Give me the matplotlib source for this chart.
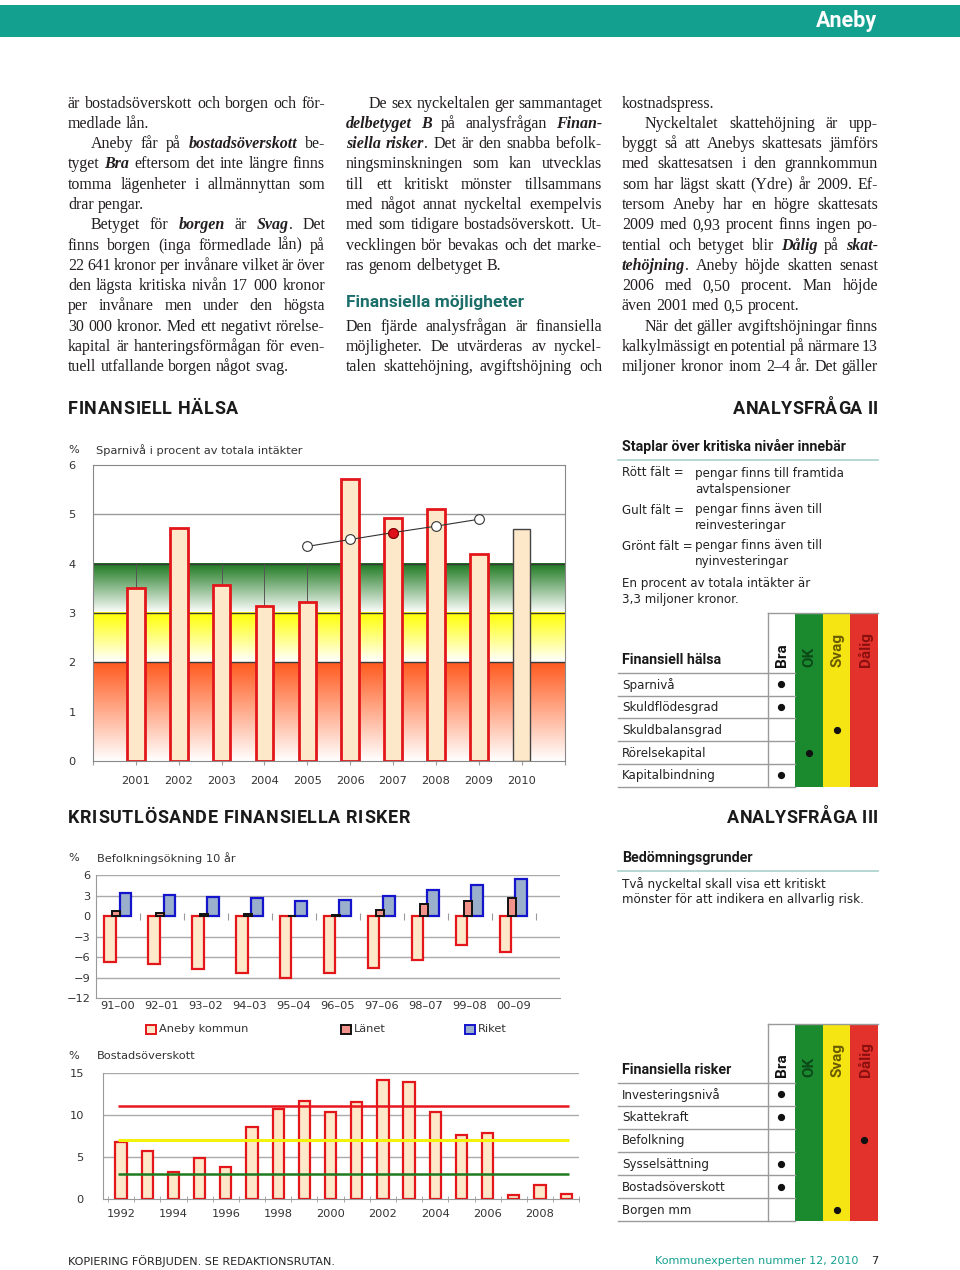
import matplotlib
matplotlib.use('Agg')
import matplotlib.pyplot as plt
from matplotlib.patches import Rectangle
import numpy as np

W, H = 960, 1270

# --- data: sparnivå ---
years = ['2001', '2002', '2003', '2004', '2005', '2006', '2007', '2008', '2009', '2010']
sparniva = [3.51, 4.73, 3.56, 3.15, 3.22, 5.71, 4.93, 5.11, 4.20, 4.70]
trend_years = ['2005', '2006', '2007', '2008', '2009']
trend = [4.35, 4.49, 4.63, 4.76, 4.90]
trend_mark = '2007'

# --- data: befolkningsökning 10 år ---
perioder = ['91–00', '92–01', '93–02', '94–03', '95–04', '96–05', '97–06', '98–07', '99–08', '00–09']
aneby = [-6.75, -6.94, -7.72, -8.35, -9.08, -8.30, -7.60, -6.45, -4.27, -5.30]
lanet = [0.80, 0.40, 0.26, 0.26, 0.0, 0.16, 0.84, 1.72, 2.20, 2.65]
riket = [3.40, 3.12, 2.84, 2.60, 2.20, 2.35, 2.98, 3.75, 4.53, 5.36]

# --- data: bostadsöverskott ---
bo_ar = list(range(1992, 2010))
bo_varde = [6.79, 5.68, 3.28, 4.86, 3.87, 8.60, 10.70, 11.69, 10.38, 11.57,
            14.13, 13.94, 10.38, 7.62, 7.82, 0.47, 1.70, 0.67]
niva_rod, niva_gul, niva_gron = 11, 7, 3

# --- data: betygstabeller ---
betyg = ['Bra', 'OK', 'Svag', 'Dålig']
halsa_rader = ['Sparnivå', 'Skuldflödesgrad', 'Skuldbalansgrad', 'Rörelsekapital', 'Kapitalbindning']
halsa_betyg = ['Bra', 'Bra', 'Svag', 'OK', 'Bra']
risk_rader = ['Investeringsnivå', 'Skattekraft', 'Befolkning', 'Sysselsättning', 'Bostadsöverskott', 'Borgen mm']
risk_betyg = ['Bra', 'Bra', 'Dålig', 'Bra', 'Bra', 'Svag']

# --- brödtext: (rad, läge)  j = marginalutjämnad, l = vänster, i = indrag ---
spalt1 = [
    ('är bostadsöverskott och borgen och för-', 'j'),
    ('medlade lån.', 'l'),
    ('Aneby får på *bostadsöverskott* be-', 'ij'),
    ('tyget *Bra* eftersom det inte längre finns', 'j'),
    ('tomma lägenheter i allmännyttan som', 'j'),
    ('drar pengar.', 'l'),
    ('Betyget för *borgen* är *Svag*. Det', 'ij'),
    ('finns borgen (inga förmedlade lån) på', 'j'),
    ('22 641 kronor per invånare vilket är över', 'j'),
    ('den lägsta kritiska nivån 17 000 kronor', 'j'),
    ('per invånare men under den högsta', 'j'),
    ('30 000 kronor. Med ett negativt rörelse-', 'j'),
    ('kapital är hanteringsförmågan för even-', 'j'),
    ('tuell utfallande borgen något svag.', 'l'),
]
spalt2 = [
    ('De sex nyckeltalen ger sammantaget', 'ij'),
    ('*delbetyget B* på analysfrågan *Finan-*', 'j'),
    ('*siella risker*. Det är den snabba befolk-', 'j'),
    ('ningsminskningen som kan utvecklas', 'j'),
    ('till ett kritiskt mönster tillsammans', 'j'),
    ('med något annat nyckeltal exempelvis', 'j'),
    ('med som tidigare bostadsöverskott. Ut-', 'j'),
    ('vecklingen bör bevakas och det marke-', 'j'),
    ('ras genom delbetyget B.', 'l'),
    ('', 'l'),
    ('', 'l'),
    ('Den fjärde analysfrågan är finansiella', 'j'),
    ('möjligheter. De utvärderas av nyckel-', 'j'),
    ('talen skattehöjning, avgiftshöjning och', 'j'),
]
spalt3 = [
    ('kostnadspress.', 'l'),
    ('Nyckeltalet skattehöjning är upp-', 'ij'),
    ('byggt så att Anebys skattesats jämförs', 'j'),
    ('med skattesatsen i den grannkommun', 'j'),
    ('som har lägst skatt (Ydre) år 2009. Ef-', 'j'),
    ('tersom Aneby har en högre skattesats', 'j'),
    ('2009 med 0,93 procent finns ingen po-', 'j'),
    ('tential och betyget blir *Dålig* på *skat-*', 'j'),
    ('*tehöjning*. Aneby höjde skatten senast', 'j'),
    ('2006 med 0,50 procent. Man höjde', 'j'),
    ('även 2001 med 0,5 procent.', 'l'),
    ('När det gäller avgiftshöjningar finns', 'ij'),
    ('kalkylmässigt en potential på närmare 13', 'j'),
    ('miljoner kronor inom 2–4 år. Det gäller', 'j'),
]

PEACH = '#FDE8C9'
RED = '#E2161B'
GRAY = '#9a9a9a'
TEAL = '#14A08F'
INK = '#231F20'
SANS = 'DejaVu Sans'

fig = plt.figure(figsize=(W / 100, H / 100), dpi=100)
page = fig.add_axes([0, 0, 1, 1])
page.set_xlim(0, W)
page.set_ylim(H, 0)
page.axis('off')
renderer = fig.canvas.get_renderer()


def px_axes(left, top, right, bottom):
    return fig.add_axes([left / W, 1 - bottom / H, (right - left) / W, (bottom - top) / H])


def measure(txt, **kw):
    t = page.text(0, 0, txt, **kw)
    w = t.get_window_extent(renderer).width
    t.remove()
    return w


def spaced(x0, x1, y, s, **kw):
    # rubrik med spärrning så att den fyller x0..x1
    base = measure(s, **kw)
    track = (x1 - x0 - base) / (len(s) - 1)
    ref = measure('H', **kw)
    for i, ch in enumerate(s):
        if ch == ' ':
            continue
        off = measure(s[:i] + 'H', **kw) - ref if i else 0
        page.text(x0 + off + i * track, y, ch, ha='left', va='center', **kw)


# --- sidhuvud ---
page.add_patch(Rectangle((0, 5), W, 32, facecolor=TEAL, edgecolor='none'))
page.text(877, 21, 'Aneby', color='white', fontsize=15.5, fontweight='bold',
          family='Roboto', ha='right', va='center')

# --- brödtext ---
def parse(line):
    words, bi = [], False
    for raw in line.split(' '):
        pieces, buf = [], ''
        for ch in raw:
            if ch == '*':
                if buf:
                    pieces.append((buf, bi))
                    buf = ''
                bi = not bi
            else:
                buf += ch
        if buf:
            pieces.append((buf, bi))
        if pieces:
            words.append(pieces)
    return words


def font_kw(bi, size):
    kw = dict(family='Liberation Serif', fontsize=size, color=INK)
    if bi:
        kw.update(fontweight='bold', fontstyle='italic')
    return kw


def width(txt, bi, size):
    return measure(txt, **font_kw(bi, size))


spalter = [(68, 325, spalt1), (346, 602, spalt2), (622, 878, spalt3)]

# anpassa storleken så att alla rader får plats
base = 11.5
ratio = 1.0
for x0, x1, lines in spalter:
    for txt, mode in lines:
        words = parse(txt)
        if not words:
            continue
        tot = sum(width(p, b, base) for w in words for p, b in w)
        avail = x1 - x0 - (23 if 'i' in mode else 0) - 2.0 * (len(words) - 1)
        ratio = min(ratio, avail / tot)
body_size = base * ratio

for x0, x1, lines in spalter:
    for k, (txt, mode) in enumerate(lines):
        words = parse(txt)
        if not words:
            continue
        y = 107.5 + k * 20.3
        start = x0 + (23 if 'i' in mode else 0)
        ws = [[width(p, b, body_size) for p, b in w] for w in words]
        tot = sum(sum(v) for v in ws)
        if 'j' in mode and len(words) > 1:
            gap = (x1 - start - tot) / (len(words) - 1)
        else:
            gap = body_size * 100 / 72 * 0.25
        x = start
        for w, v in zip(words, ws):
            for (p, b), pw in zip(w, v):
                page.text(x, y, p, ha='left', va='baseline', **font_kw(b, body_size))
                x += pw
            x += gap

page.text(346, 303, 'Finansiella möjligheter', family='Roboto', fontweight='bold',
          fontsize=12.5, color='#1B6E69', ha='left', va='center')

# --- rubriker ---
hkw = dict(family='Roboto', fontweight='bold', fontsize=13, color='#1a1a1a')
spaced(68, 238, 409, 'FINANSIELL HÄLSA', **hkw)
spaced(733, 878, 409, 'ANALYSFRÅGA II', **hkw)
spaced(68, 410, 818, 'KRISUTLÖSANDE FINANSIELLA RISKER', **hkw)
spaced(727, 878, 818, 'ANALYSFRÅGA III', **hkw)

# --- diagram 1: sparnivå ---
page.text(68, 450, '%', family=SANS, fontsize=8.2, color='#333', va='center')
page.text(96, 450, 'Sparnivå i procent av totala intäkter', family=SANS, fontsize=8.2,
          color='#333', va='center')

ax1 = px_axes(93, 465, 564.5, 761)


def band(ax, lo, hi, top_col, x1):
    n = 100
    c = np.array(matplotlib.colors.to_rgb(top_col))
    t = np.linspace(0, 1, n)[:, None]
    img = (1 - t) * np.ones(3) + t * c
    ax.imshow(img[:, None, :], extent=(0, x1, lo, hi), origin='lower', aspect='auto',
              zorder=0, interpolation='bilinear')


band(ax1, 3, 4, '#1C781F', 11)
band(ax1, 2, 3, '#FFFF00', 11)
band(ax1, 0, 2, '#FF5A1E', 11)
ax1.set_xlim(0, 11)
ax1.set_ylim(0, 6)
ax1.hlines(5, 0, 11, color=GRAY, lw=1, zorder=1)
ax1.hlines([2, 3, 4], 0, 11, color='#3a3a3a', lw=1, zorder=1)
xs = np.arange(1, len(years) + 1)
ax1.vlines(xs, 3, 4, color='#555555', lw=0.7, zorder=1)
ax1.bar(xs, sparniva, width=0.41, color=PEACH,
        edgecolor=[RED] * 9 + ['#444444'], linewidth=[2] * 9 + [1], zorder=2)
tx = [years.index(y) + 1 for y in trend_years]
ax1.plot(tx, trend, color='#333333', lw=0.8, zorder=3)
ax1.plot(tx, trend, 'o', ms=7, mfc='white', mec='#333333', mew=0.8, zorder=4)
ax1.plot(years.index(trend_mark) + 1, trend[trend_years.index(trend_mark)], 'o', ms=7,
         mfc='#E0101A', mec='#8a0000', mew=0.8, zorder=5)
ax1.set_xticks(np.arange(0, 12))
ax1.set_xticklabels([''] + years + [''])
ax1.set_yticks(range(0, 7))
ax1.tick_params(axis='x', length=3, color=GRAY, pad=8, labelsize=8.2, labelcolor='#333')
ax1.tick_params(axis='y', length=0, pad=12.5, labelsize=8.2, labelcolor='#333')
for s in ax1.spines.values():
    s.set_color('#888888')

# --- diagram 2: befolkningsökning ---
page.text(68, 858, '%', family=SANS, fontsize=8.2, color='#333', va='center')
page.text(97, 858, 'Befolkningsökning 10 år', family=SANS, fontsize=8.2, color='#333', va='center')
ax2 = px_axes(96, 875, 560, 998.3)
gx = np.arange(len(perioder))
ax2.hlines([6, 3, -3, -6, -9], -0.5, 10.05, color='#aaaaaa', lw=1, zorder=0)
ax2.vlines(gx + 0.5, -0.5, 0.5, color=GRAY, lw=0.8, zorder=0)
ax2.bar(gx - 0.19, aneby, width=0.27, color=PEACH, edgecolor=RED, lw=1.6, zorder=2)
ax2.bar(gx - 0.04, lanet, width=0.19, color='#F1938A', edgecolor='#111111', lw=1.4, zorder=3)
ax2.bar(gx + 0.17, riket, width=0.27, color='#9AAFCC', edgecolor='#1414CC', lw=1.6, zorder=2)
ax2.set_xlim(-0.5, 10.05)
ax2.set_ylim(-12, 6)
ax2.set_yticks([6, 3, 0, -3, -6, -9, -12])
ax2.set_yticklabels(['6', '3', '0', '−3', '−6', '−9', '−12'])
ax2.set_xticks(gx)
ax2.set_xticklabels(perioder)
ax2.tick_params(axis='both', length=0, labelsize=8.2, labelcolor='#333')
ax2.tick_params(axis='x', pad=2)
ax2.tick_params(axis='y', pad=4)
ax2.spines['top'].set_visible(False)
ax2.spines['right'].set_visible(False)
ax2.spines['left'].set_color(GRAY)
ax2.spines['bottom'].set_color(GRAY)

for x, lab, fc, ec in [(146, 'Aneby kommun', PEACH, RED), (341, 'Länet', '#F1938A', '#111111'),
                       (465, 'Riket', '#9AAFCC', '#1414CC')]:
    page.add_patch(Rectangle((x, 1024.5), 10, 9.5, facecolor=fc, edgecolor=ec, lw=1.4))
    page.text(x + 13, 1029.5, lab, family=SANS, fontsize=8.2, color='#333', va='center')

# --- diagram 3: bostadsöverskott ---
page.text(68, 1056, '%', family=SANS, fontsize=8.2, color='#333', va='center')
page.text(97, 1056, 'Bostadsöverskott', family=SANS, fontsize=8.2, color='#333', va='center')
ax3 = px_axes(103.3, 1072.7, 579.3, 1199.3)
ax3.hlines([5, 10, 15], 1991.32, 2009.5, color='#aaaaaa', lw=1, zorder=0)
ax3.bar(bo_ar, bo_varde, width=0.43, color=PEACH, edgecolor=RED, lw=1.6, zorder=2)
ax3.hlines(niva_rod, 1991.9, 2009.1, color='#E8161E', lw=1.8, zorder=3)
ax3.hlines(niva_gul, 1991.9, 2009.1, color='#F2F20C', lw=2.2, zorder=3)
ax3.hlines(niva_gron, 1991.9, 2009.1, color='#1E7A1E', lw=1.8, zorder=3)
ax3.set_xlim(1991.32, 2009.5)
ax3.set_ylim(0, 15)
ax3.set_xticks(range(1992, 2009, 2))
ax3.set_xticks(np.arange(1991.5, 2009.6, 1), minor=True)
ax3.set_yticks([0, 5, 10, 15])
ax3.tick_params(axis='x', which='major', length=0, pad=7, labelsize=8.2, labelcolor='#333')
ax3.tick_params(axis='x', which='minor', length=4, direction='inout', color=GRAY)
ax3.tick_params(axis='y', length=0, pad=14, labelsize=8.2, labelcolor='#333')
ax3.spines['top'].set_visible(False)
ax3.spines['right'].set_visible(False)
ax3.spines['left'].set_color(GRAY)
ax3.spines['bottom'].set_color(GRAY)

# --- högerspalt: förklaringsruta ---
page.text(622, 447, 'Staplar över kritiska nivåer innebär', family='Roboto', fontweight='bold',
          fontsize=10.3, color='#1a1a1a', va='center')
page.plot([618, 878], [460, 460], color='#A8CFCB', lw=1.2)
for x, y, s in [(622, 473, 'Rött fält ='), (695, 473, 'pengar finns till framtida'),
                (695, 489, 'avtalspensioner'),
                (622, 510, 'Gult fält ='), (695, 510, 'pengar finns även till'),
                (695, 526, 'reinvesteringar'),
                (622, 546, 'Grönt fält ='), (695, 546, 'pengar finns även till'),
                (695, 562, 'nyinvesteringar'),
                (622, 583, 'En procent av totala intäkter är'),
                (622, 599, '3,3 miljoner kronor.')]:
    page.text(x, y, s, family=SANS, fontsize=8.6, color='#222', va='center')

page.text(622, 858, 'Bedömningsgrunder', family='Roboto', fontweight='bold',
          fontsize=10.3, color='#1a1a1a', va='center')
page.plot([618, 878], [871, 871], color='#A8CFCB', lw=1.2)
page.text(622, 884, 'Två nyckeltal skall visa ett kritiskt', family=SANS, fontsize=8.6,
          color='#222', va='center')
page.text(622, 900, 'mönster för att indikera en allvarlig risk.', family=SANS, fontsize=8.6,
          color='#222', va='center')

# --- betygstabeller ---
kant = [767.7, 795, 822.7, 850.3, 878.3]
kol_farg = ['white', '#1B8A2F', '#F4E513', '#E3312B']
rubrik_farg = ['#111111', '#0B4A18', '#6A5A00', '#8A1010']


def betygstabell(top, head_bottom, row_h, titel, rader, satta):
    bottom = head_bottom + row_h * len(rader)
    for j in range(4):
        page.add_patch(Rectangle((kant[j], top), kant[j + 1] - kant[j], bottom - top,
                                 facecolor=kol_farg[j], edgecolor='none', zorder=1))
        page.text((kant[j] + kant[j + 1]) / 2 + 1, head_bottom - 6, betyg[j], rotation=90,
                  ha='center', va='bottom', family='Roboto', fontweight='bold',
                  fontsize=11, color=rubrik_farg[j], zorder=3)
    page.plot([kant[0], kant[-1]], [top, top], color=GRAY, lw=1, zorder=2)
    page.plot([kant[0], kant[0]], [top, bottom], color=GRAY, lw=1, zorder=2)
    for k in range(len(rader) + 1):
        yy = head_bottom + k * row_h
        page.plot([618, kant[1]], [yy, yy], color=GRAY, lw=1, zorder=2)
    page.text(622, head_bottom - 13, titel, family='Roboto', fontweight='bold',
              fontsize=10.3, color='#1a1a1a', va='center')
    for k, namn in enumerate(rader):
        yc = head_bottom + (k + 0.5) * row_h
        page.text(622, yc + 0.5, namn, family=SANS, fontsize=8.6, color='#222', va='center')
        j = betyg.index(satta[k])
        page.plot((kant[j] + kant[j + 1]) / 2, yc, 'o', ms=4.2, color='#111111', zorder=4)


betygstabell(612.7, 672.7, 22.8, 'Finansiell hälsa', halsa_rader, halsa_betyg)
betygstabell(1024, 1082.7, 23.1, 'Finansiella risker', risk_rader, risk_betyg)

# --- sidfot ---
page.text(68, 1261, 'KOPIERING FÖRBJUDEN. SE REDAKTIONSRUTAN.', family=SANS, fontsize=8,
          color='#222', va='center')
page.text(858, 1261, 'Kommunexperten nummer 12, 2010', family=SANS, fontsize=8,
          color=TEAL, va='center', ha='right')
page.text(878, 1261, '7', family=SANS, fontsize=8.2, color='#222', va='center', ha='right')

fig.savefig('out.png', dpi=100)
